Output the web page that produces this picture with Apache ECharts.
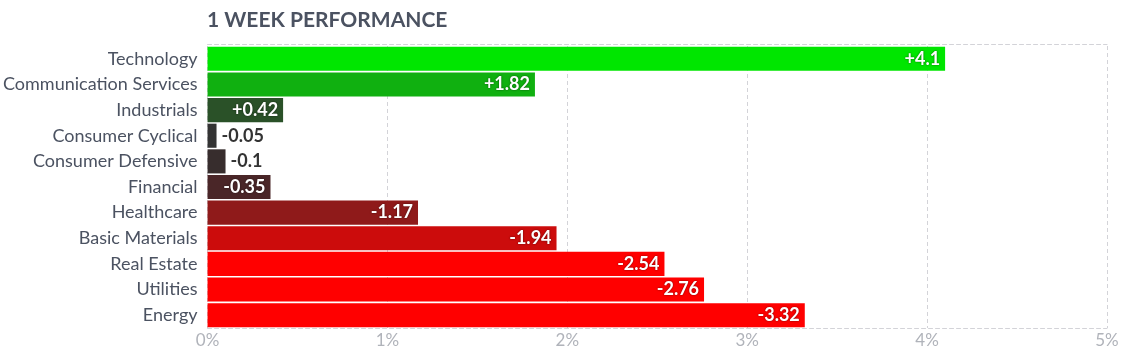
<!DOCTYPE html>
<html><head><meta charset="utf-8">
<script src="https://cdn.jsdelivr.net/npm/echarts@6/dist/echarts.min.js"></script>
<style>html,body{margin:0;padding:0;background:#fff}#c{width:1124px;height:359px}</style>
</head><body><div id="c"></div>
<script>
const categories = ["Technology","Communication Services","Industrials","Consumer Cyclical","Consumer Defensive","Financial","Healthcare","Basic Materials","Real Estate","Utilities","Energy"];
const changes = [4.1, 1.82, 0.42, -0.05, -0.1, -0.35, -1.17, -1.94, -2.54, -2.76, -3.32];
const barColors = ["#00e600","#10b010","#2a5128","#333333","#372d2d","#4a2628","#8f1a1a","#cc0c0c","#ff0000","#ff0000","#ff0000"];
const xTicks = [0,1,2,3,4,5];

const fmt = v => (v > 0 ? "+" : "") + v;
const data = changes.map((v, i) => {
  const abs = Math.abs(v);
  const inside = abs >= 0.3;
  return {
    value: abs,
    itemStyle: { color: barColors[i] },
    label: inside ? {
      position: "insideRight", color: "#fff", distance: 5,
      textShadowColor: "rgba(0,0,0,0.6)", textShadowBlur: 2
    } : {
      position: "right", color: "#333", distance: 5
    }
  };
});

const dash = { type: [4,3], color: "#d3d3d8", width: 1 };
const chart = echarts.init(document.getElementById("c"));
chart.setOption({
  animation: false,
  textStyle: { fontFamily: "Lato" },
  title: {
    text: "1 WEEK PERFORMANCE", left: 202, top: 5,
    textStyle: { fontFamily: "Lato", fontSize: 21, fontWeight: "bold", color: "#4b5261" }
  },
  grid: { left: 207, right: 17, top: 46, bottom: 31, containLabel: false },
  xAxis: [{
    type: "value", min: xTicks[0], max: xTicks[xTicks.length-1], interval: 1,
    axisLine: { show: true, lineStyle: dash }, axisTick: { show: false },
    splitLine: { show: true, lineStyle: dash },
    axisLabel: { formatter: "{value}%", color: "#b0b3ba", fontSize: 17, fontFamily: "Lato", margin: 4 }
  }, {
    type: "value", position: "top", offset: 2, min: xTicks[0], max: xTicks[xTicks.length-1], interval: 1,
    axisLine: { show: true, lineStyle: dash }, axisTick: { show: false },
    splitLine: { show: false }, axisLabel: { show: false }
  }],
  yAxis: {
    type: "category", data: categories, inverse: true,
    axisLine: { show: false }, axisTick: { show: false },
    splitLine: { show: false },
    axisLabel: { color: "#4b5261", fontSize: 18, fontFamily: "Lato", margin: 10 }
  },
  series: [{
    type: "bar", data: data, barCategoryGap: "6%", xAxisIndex: 0,
    label: {
      show: true, fontSize: 18, fontWeight: "bold", fontFamily: "Lato",
      formatter: p => fmt(changes[p.dataIndex])
    }
  }]
});
</script></body></html>
